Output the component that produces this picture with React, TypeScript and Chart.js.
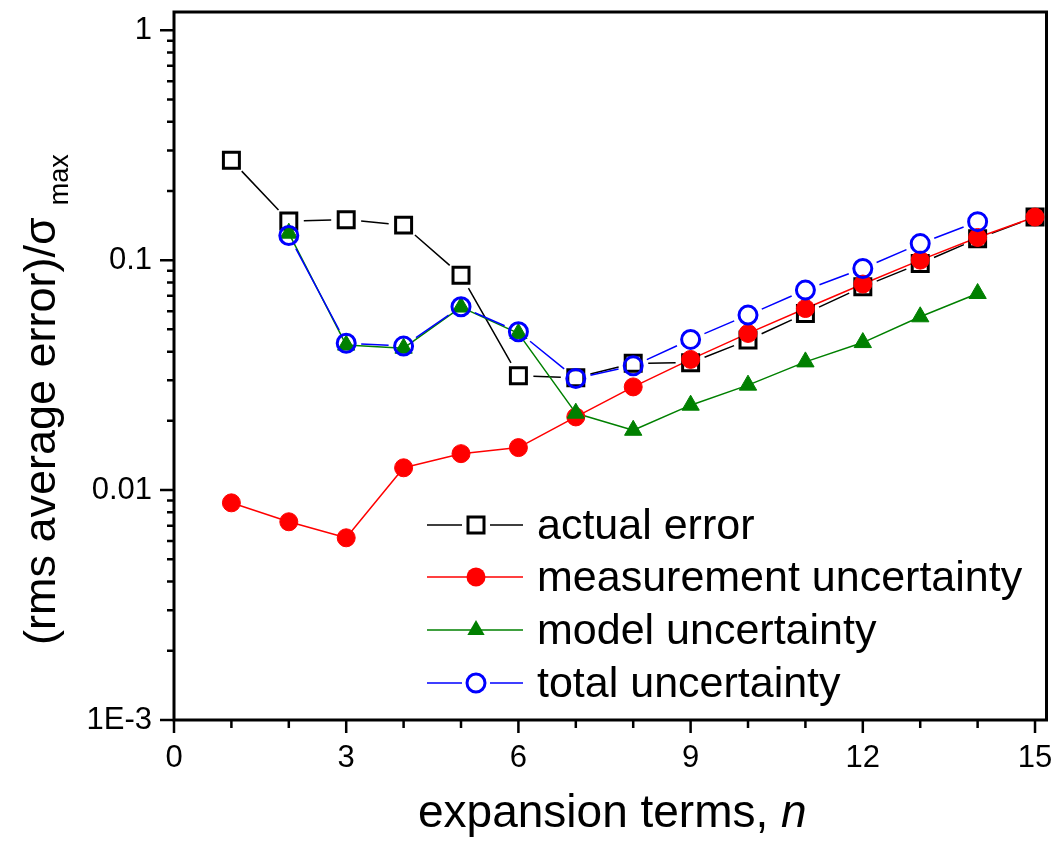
import React, { useEffect, useRef } from "react";
import { Chart, registerables } from "chart.js";

Chart.register(...registerables);

const FONT = "'Liberation Sans', Arial, Helvetica, sans-serif";

// ---------- data ----------
const actualN = [1, 2, 3, 4, 5, 6, 7, 8, 9, 10, 11, 12, 13, 14, 15];
const actualError = [0.272, 0.148, 0.15, 0.142, 0.086, 0.0314, 0.0308, 0.0356, 0.0358, 0.0449, 0.0586, 0.0766, 0.0967, 0.124, 0.154];

const measurementN = [1, 2, 3, 4, 5, 6, 7, 8, 9, 10, 11, 12, 13, 14, 15];
const measurementUncertainty = [0.0088, 0.00728, 0.0062, 0.0125, 0.0144, 0.0153, 0.0208, 0.0281, 0.037, 0.048, 0.0616, 0.0787, 0.1, 0.1255, 0.154];

const modelN = [2, 3, 4, 5, 6, 7, 8, 9, 10, 11, 12, 13, 14];
const modelUncertainty = [0.131, 0.0427, 0.0414, 0.0625, 0.048, 0.0216, 0.0182, 0.0234, 0.0286, 0.0361, 0.0438, 0.0567, 0.0716];

const totalN = [2, 3, 4, 5, 6, 7, 8, 9, 10, 11, 12, 13, 14];
const totalUncertainty = [0.128, 0.0435, 0.0423, 0.0627, 0.0488, 0.0306, 0.0347, 0.0452, 0.0577, 0.0741, 0.092, 0.118, 0.147];

const seriesLabels = ["actual error", "measurement uncertainty", "model uncertainty", "total uncertainty"];

const xTickValues = [0, 3, 6, 9, 12, 15];
const xMinorTickValues = [1, 2, 4, 5, 7, 8, 10, 11, 13, 14];
const yTickValues = [0.001, 0.01, 0.1, 1];
const yTickLabels = ["1E-3", "0.01", "0.1", "1"];
const yMinorMultipliers = [2, 3, 4, 5, 6, 7, 8, 9];

const xTitleMain = "expansion terms, ";
const xTitleItalic = "n";
const yTitleMain = "(rms average error)/\u03c3";
const yTitleSub = "max";

// ---------- helpers ----------
const toPoints = (xs: number[], ys: number[]) => xs.map((x, i) => ({ x, y: ys[i] }));

type MarkerKind = "square" | "disc" | "triangle" | "ring";

function drawMarker(ctx: CanvasRenderingContext2D, kind: MarkerKind, color: string, x: number, y: number) {
  ctx.save();
  ctx.strokeStyle = color;
  ctx.fillStyle = color;
  if (kind === "square") {
    ctx.lineWidth = 3;
    ctx.strokeRect(x - 8, y - 8, 16, 16);
  } else if (kind === "disc") {
    ctx.beginPath();
    ctx.arc(x, y, 9.5, 0, Math.PI * 2);
    ctx.fill();
  } else if (kind === "triangle") {
    const r = 10;
    ctx.beginPath();
    ctx.moveTo(x, y - r);
    ctx.lineTo(x + 0.866 * r, y + 0.5 * r);
    ctx.lineTo(x - 0.866 * r, y + 0.5 * r);
    ctx.closePath();
    ctx.fill();
  } else {
    ctx.lineWidth = 3;
    ctx.beginPath();
    ctx.arc(x, y, 9, 0, Math.PI * 2);
    ctx.stroke();
  }
  ctx.restore();
}

const gapLinesPlugin = {
  id: "gapLines",
  beforeDatasetsDraw(chart: any) {
    const ctx = chart.ctx as CanvasRenderingContext2D;
    const a = chart.chartArea;
    ctx.save();
    ctx.beginPath();
    ctx.rect(a.left, a.top, a.right - a.left, a.bottom - a.top);
    ctx.clip();
    chart.data.datasets.forEach((ds: any, i: number) => {
      const els = chart.getDatasetMeta(i).data;
      ctx.strokeStyle = ds.lineColor;
      ctx.lineWidth = ds.lineWidth;
      ctx.beginPath();
      for (let j = 0; j < els.length - 1; j++) {
        const p = els[j];
        const q = els[j + 1];
        const dx = q.x - p.x;
        const dy = q.y - p.y;
        const d = Math.hypot(dx, dy);
        const g = ds.lineGap;
        if (d <= 2 * g) continue;
        const ux = dx / d;
        const uy = dy / d;
        ctx.moveTo(p.x + ux * g, p.y + uy * g);
        ctx.lineTo(q.x - ux * g, q.y - uy * g);
      }
      ctx.stroke();
    });
    ctx.restore();
  },
};

const decorPlugin = {
  id: "decor",
  afterDraw(chart: any) {
    const ctx = chart.ctx as CanvasRenderingContext2D;
    const a = chart.chartArea;
    const xs = chart.scales.x;
    const ys = chart.scales.y;

    ctx.save();
    ctx.strokeStyle = "#000";
    ctx.lineWidth = 3;
    ctx.lineCap = "butt";
    // frame
    ctx.strokeRect(a.left, a.top, a.right - a.left, a.bottom - a.top);

    // x ticks
    ctx.lineWidth = 2.5;
    ctx.beginPath();
    xTickValues.forEach((v) => {
      const px = xs.getPixelForValue(v);
      ctx.moveTo(px, a.bottom);
      ctx.lineTo(px, a.bottom + 13);
    });
    xMinorTickValues.forEach((v) => {
      const px = xs.getPixelForValue(v);
      ctx.moveTo(px, a.bottom);
      ctx.lineTo(px, a.bottom + 8);
    });
    // y ticks
    yTickValues.forEach((v) => {
      const py = ys.getPixelForValue(v);
      ctx.moveTo(a.left - 14, py);
      ctx.lineTo(a.left, py);
      yMinorMultipliers.forEach((m) => {
        const mv = v * m;
        if (mv <= ys.max) {
          const my = ys.getPixelForValue(mv);
          ctx.moveTo(a.left - 7, my);
          ctx.lineTo(a.left, my);
        }
      });
    });
    ctx.stroke();

    // x title
    ctx.fillStyle = "#000";
    ctx.textBaseline = "alphabetic";
    ctx.textAlign = "left";
    ctx.font = `46px ${FONT}`;
    const xw = ctx.measureText(xTitleMain).width;
    ctx.fillText(xTitleMain, 410, 819);
    ctx.font = `italic 46px ${FONT}`;
    ctx.fillText(xTitleItalic, 410 + xw, 819);

    // y title (rotated) with subscript
    ctx.save();
    ctx.translate(47, 637);
    ctx.rotate(-Math.PI / 2);
    ctx.font = `45px ${FONT}`;
    ctx.fillText(yTitleMain, 0, 0);
    const yw = ctx.measureText(yTitleMain).width;
    ctx.font = `27px ${FONT}`;
    ctx.fillText(yTitleSub, yw + 12, 13);
    ctx.restore();

    // legend
    const rowsY = [517, 569, 622, 675];
    chart.data.datasets.forEach((ds: any, i: number) => {
      const cy = rowsY[i];
      const cx = 468;
      ctx.strokeStyle = ds.lineColor;
      ctx.lineWidth = ds.lineWidth;
      ctx.beginPath();
      const g = ds.lineGap > 0 ? 14 : 0;
      if (g > 0) {
        ctx.moveTo(419, cy);
        ctx.lineTo(cx - g, cy);
        ctx.moveTo(cx + g, cy);
        ctx.lineTo(515, cy);
      } else {
        ctx.moveTo(419, cy);
        ctx.lineTo(515, cy);
      }
      ctx.stroke();
      drawMarker(ctx, ds.markerKind, ds.lineColor, cx, cy);
      ctx.fillStyle = "#000";
      ctx.font = `43px ${FONT}`;
      ctx.fillText(seriesLabels[i], 529, cy + 14);
    });
    ctx.restore();
  },
};

export default function App() {
  const ref = useRef<HTMLCanvasElement>(null);

  useEffect(() => {
    if (!ref.current) return;
    const chart = new Chart(ref.current, {
      type: "scatter",
      data: {
        datasets: [
          {
            label: seriesLabels[0],
            data: toPoints(actualN, actualError),
            pointStyle: "rect",
            pointRadius: 11.3,
            pointBorderWidth: 3,
            pointBorderColor: "#000000",
            pointBackgroundColor: "rgba(0,0,0,0)",
            order: 4,
            lineColor: "#000000",
            lineWidth: 1.5,
            lineGap: 15,
            markerKind: "square",
          } as any,
          {
            label: seriesLabels[1],
            data: toPoints(measurementN, measurementUncertainty),
            pointStyle: "circle",
            pointRadius: 9,
            pointBorderWidth: 1,
            pointBorderColor: "#ff0000",
            pointBackgroundColor: "#ff0000",
            order: 3,
            lineColor: "#ff0000",
            lineWidth: 1.5,
            lineGap: 0,
            markerKind: "disc",
          } as any,
          {
            label: seriesLabels[2],
            data: toPoints(modelN, modelUncertainty),
            pointStyle: "triangle",
            pointRadius: 10,
            pointBorderWidth: 1,
            pointBorderColor: "#008000",
            pointBackgroundColor: "#008000",
            order: 2,
            lineColor: "#008000",
            lineWidth: 1.5,
            lineGap: 0,
            markerKind: "triangle",
          } as any,
          {
            label: seriesLabels[3],
            data: toPoints(totalN, totalUncertainty),
            pointStyle: "circle",
            pointRadius: 9,
            pointBorderWidth: 3,
            pointBorderColor: "#0000ff",
            pointBackgroundColor: "rgba(0,0,0,0)",
            order: 1,
            lineColor: "#0000ff",
            lineWidth: 1.5,
            lineGap: 15,
            markerKind: "ring",
          } as any,
        ],
      },
      options: {
        animation: false,
        responsive: true,
        maintainAspectRatio: false,
        events: [],
        layout: { autoPadding: false, padding: { top: 4, right: 7.5, left: 0, bottom: 0 } },
        plugins: {
          legend: { display: false },
          tooltip: { enabled: false },
          title: { display: false },
        },
        scales: {
          x: {
            type: "linear",
            min: 0,
            max: 15.2,
            afterBuildTicks: (s: any) => {
              s.ticks = xTickValues.map((v) => ({ value: v }));
            },
            afterFit: (s: any) => {
              s.height = 122;
              s.paddingLeft = 0;
              s.paddingRight = 0;
            },
            grid: { display: false, drawTicks: true, tickLength: 13 },
            border: { display: false },
            ticks: {
              color: "#000",
              font: { family: FONT, size: 31 },
              padding: 6.5,
              maxRotation: 0,
              autoSkip: false,
              callback: (v: any) => String(v),
            },
          },
          y: {
            type: "logarithmic",
            min: 0.001,
            max: 1.2,
            afterBuildTicks: (s: any) => {
              s.ticks = yTickValues.map((v) => ({ value: v, major: true }));
            },
            afterFit: (s: any) => {
              s.width = 166;
              s.paddingTop = 0;
              s.paddingBottom = 0;
            },
            grid: { display: false, drawTicks: true, tickLength: 14 },
            border: { display: false },
            ticks: {
              color: "#000",
              font: { family: FONT, size: 31 },
              padding: 8,
              autoSkip: false,
              callback: (_v: any, i: number) => yTickLabels[i],
            },
          },
        },
      },
      plugins: [gapLinesPlugin, decorPlugin],
    } as any);
    return () => chart.destroy();
  }, []);

  return (
    <div style={{ width: 1046, height: 834, position: "relative" }}>
      <canvas ref={ref} />
    </div>
  );
}
